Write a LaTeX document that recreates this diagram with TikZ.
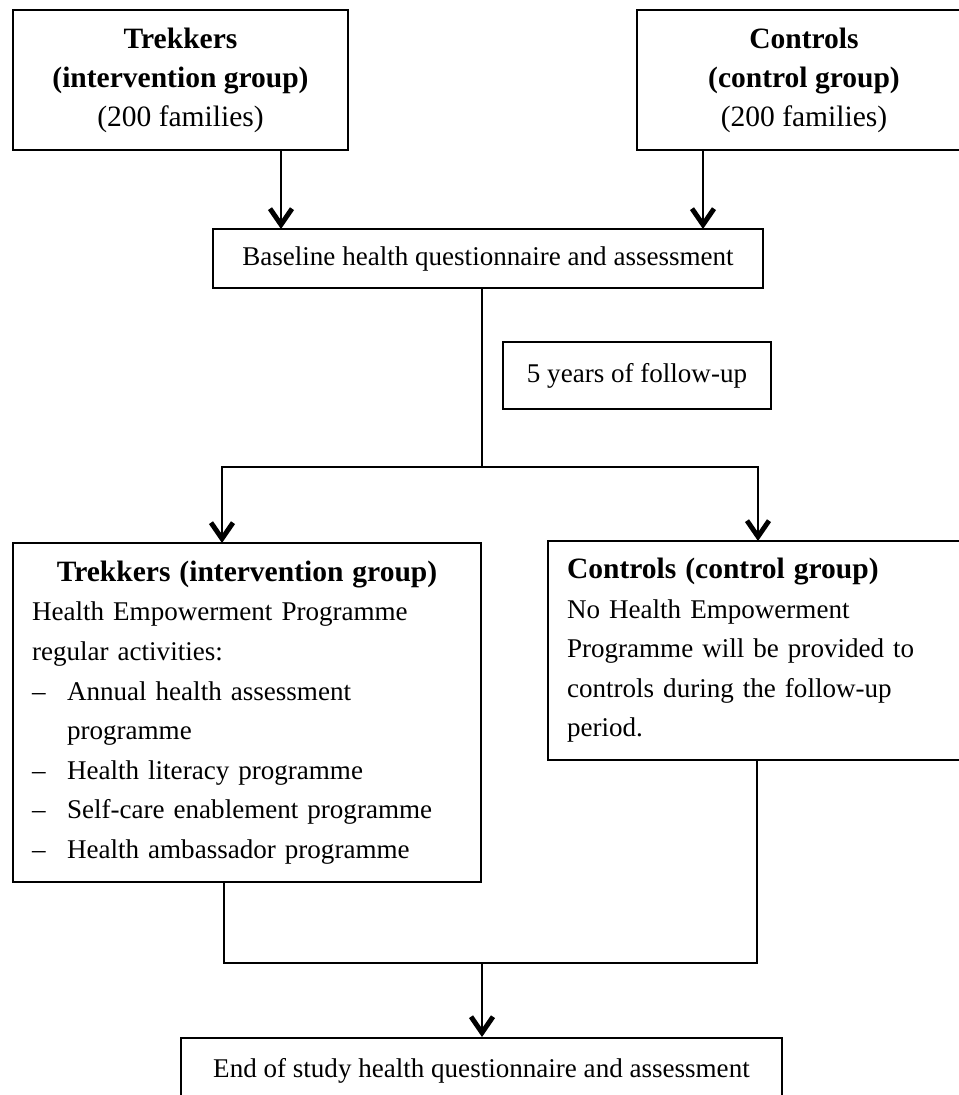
\documentclass[tikz,border=0pt]{standalone}
\usepackage{fontspec}
\setmainfont{Liberation Serif}
\usetikzlibrary{arrows.meta}
\newcommand{\bodyfont}{\fontsize{15.4}{22.5}\selectfont}
\newcommand{\headfont}{\fontsize{16.8}{22.2}\selectfont}
\tikzstyle{box}=[draw, line width=1.1pt, inner sep=0pt]
\tikzstyle{conn}=[line width=1.1pt]
\tikzstyle{arr}=[line width=1.1pt, -{Straight Barb[length=0.32cm, width=0.44cm, line width=2.8pt]}]

\begin{document}
\begin{tikzpicture}[x=0.02cm, y=-0.02cm]
\useasboundingbox (0,0) rectangle (959,1095);
% groups at the start
\node[box, minimum width=6.7cm, minimum height=2.8cm, align=center, font=\headfont] at (180.5, 80) (trek) {\textbf{Trekkers}\\ \textbf{(intervention group)}\\ (200 families)};
\node[box, minimum width=6.68cm, minimum height=2.8cm, align=center, font=\headfont] at (804, 80) (ctrl) {\textbf{Controls}\\ \textbf{(control group)}\\ (200 families)};
\node[box, minimum width=11cm, minimum height=1.18cm, font=\bodyfont] at (488, 258.5) (base) {Baseline health questionnaire and assessment};
\node[box, minimum width=5.36cm, minimum height=1.34cm, font=\bodyfont] at (637, 375.5) (follow) {5 years of follow-up};
% the two arms
\node[box, text width=8.6cm, inner xsep=0.38cm, minimum height=6.78cm, align=left, font=\bodyfont] at (247, 712.5) (trekact) {\makebox[8.6cm]{\headfont\bfseries Trekkers (intervention group)}\\
Health Empowerment Programme\\
regular activities:\\
\makebox[0.7cm][l]{--}Annual health assessment\\
\hspace*{0.7cm}programme\\
\makebox[0.7cm][l]{--}Health literacy programme\\
\makebox[0.7cm][l]{--}Self-care enablement programme\\
\makebox[0.7cm][l]{--}Health ambassador programme};
\node[box, text width=7.78cm, inner xsep=0.38cm, minimum height=4.38cm, align=left, font=\bodyfont] at (761.5, 650.5) (ctrlnone) {{\headfont\bfseries Controls (control group)}\\
No Health Empowerment\\
Programme will be provided to\\
controls during the follow-up\\
period.};
\node[box, minimum width=12.02cm, minimum height=1.32cm, font=\bodyfont] at (481.5, 1071) (final) {End of study health questionnaire and assessment};
% connectors
\coordinate (a1) at (281, 229);
\coordinate (a2) at (703, 229);
\coordinate (split) at (482, 467);
\coordinate (a3) at (222, 543);
\coordinate (a4) at (758, 541);
\coordinate (jl) at (224, 963);
\coordinate (jr) at (757, 963);
\coordinate (join) at (482, 963);
\draw[arr] (trek.south -| a1) -- (a1);
\draw[arr] (ctrl.south -| a2) -- (a2);
\draw[conn] (base.south -| split) -- (split);
\draw[arr] (split) -| (a3);
\draw[arr] (split) -| (a4);
\draw[conn] (trekact.south -| jl) -- (jl) -- (jr) -- (ctrlnone.south -| jr);
\draw[arr] (join) -- (final.north -| join);
\end{tikzpicture}
\end{document}
